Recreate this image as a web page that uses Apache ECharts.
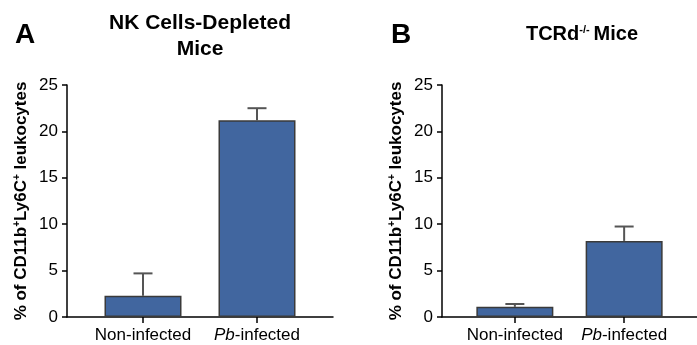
<!DOCTYPE html>
<html>
<head>
<meta charset="utf-8">
<script src="https://cdn.jsdelivr.net/npm/echarts@6/dist/echarts.min.js"></script>
<style>
  html, body { margin: 0; padding: 0; background: #fff; }
  #container { width: 697px; height: 345px; }
</style>
</head>
<body>
<div id="container"></div>
<script>
// data
var categories = ['Non-infected', 'Pb-infected'];
var nkMeans = [2.3, 21.2];   // NK cells-depleted mice
var nkErr = [2.4, 1.3];
var tcrMeans = [1.1, 8.2];   // TCRd-/- mice
var tcrErr = [0.3, 1.55];
var yMin = 0, yMax = 25, yStep = 5;

var FONT = 'Arial, "Liberation Sans", sans-serif';
var BAR_COLOR = '#41669f';
var slots = [2, 5];  // where each category sits on the 0..7 x scale

function catLabel(v) {
    var i = slots.indexOf(v);
    if (i < 0) return '';
    var name = categories[i];
    if (name.indexOf('Pb') === 0) return '{i|Pb}' + name.slice(2);
    return name;
}

function barData(means) {
    return means.map(function (m, i) { return [slots[i], m]; });
}
function errData(means, errs) {
    return means.map(function (m, i) { return [slots[i], m, m + errs[i]]; });
}

function renderErr(params, api) {
    var x = api.value(0);
    var lo = api.coord([x, api.value(1)]);
    var hi = api.coord([x, api.value(2)]);
    var half = 9.5;
    var st = { stroke: '#555', lineWidth: 2 };
    return {
        type: 'group',
        children: [
            { type: 'line', shape: { x1: lo[0], y1: lo[1], x2: hi[0], y2: hi[1] }, style: st },
            { type: 'line', shape: { x1: hi[0] - half, y1: hi[1], x2: hi[0] + half, y2: hi[1] }, style: st }
        ]
    };
}

function xAxisFor(gi) {
    return {
        gridIndex: gi, type: 'value', min: 0, max: 7,
        axisLine: { show: true, onZero: false, lineStyle: { color: '#000', width: 1.5 } },
        axisTick: { show: true, customValues: slots, length: 6, lineStyle: { color: '#000', width: 1.5 } },
        axisLabel: {
            customValues: slots, formatter: catLabel, color: '#000', fontSize: 17,
            fontFamily: FONT, margin: 10,
            rich: { i: { fontStyle: 'italic', fontSize: 17, fontFamily: FONT, color: '#000' } }
        },
        splitLine: { show: false }
    };
}

function yAxisFor(gi) {
    return {
        gridIndex: gi, type: 'value', min: yMin, max: yMax, interval: yStep,
        axisLine: { show: true, lineStyle: { color: '#000', width: 1.5 } },
        axisTick: { show: true, length: 5, lineStyle: { color: '#000', width: 1.5 } },
        axisLabel: { color: '#000', fontSize: 17, fontFamily: FONT, margin: 9 },
        splitLine: { show: false },
        name: '% of CD11b{s|+}Ly6C{s|+} leukocytes',
        nameLocation: 'middle', nameGap: 37,
        nameTextStyle: {
            color: '#000', fontSize: 17, fontWeight: 'bold', fontFamily: FONT,
            rich: { s: { fontSize: 10, fontWeight: 'bold', fontFamily: FONT, color: '#000', verticalAlign: 'top', padding: [0, 0, 8, 0] } }
        }
    };
}

var titleStyle = { color: '#000', fontSize: 21, fontWeight: 'bold', fontFamily: FONT, lineHeight: 26 };

var option = {
    animation: false,
    backgroundColor: '#fff',
    title: [
        { text: 'A', left: 10, top: 16, textStyle: { color: '#000', fontSize: 28, fontWeight: 'bold', fontFamily: FONT } },
        { text: 'NK Cells-Depleted\nMice', left: 195, top: 5, textAlign: 'center', textStyle: titleStyle },
        { text: 'B', left: 386, top: 16, textStyle: { color: '#000', fontSize: 28, fontWeight: 'bold', fontFamily: FONT } },
        {
            text: 'TCRd{s|-/-}Mice', left: 577, top: 19, textAlign: 'center',
            textStyle: {
                color: '#000', fontSize: 20, fontWeight: 'bold', fontFamily: FONT,
                rich: { s: { fontSize: 11, fontWeight: 'bold', fontFamily: FONT, color: '#000', verticalAlign: 'top', padding: [0, 4, 9, 0] } }
            }
        }
    ],
    grid: [
        { left: 67, top: 85, width: 266, height: 232 },
        { left: 442, top: 85, width: 266, height: 232 }
    ],
    xAxis: [xAxisFor(0), xAxisFor(1)],
    yAxis: [yAxisFor(0), yAxisFor(1)],
    series: [
        {
            type: 'bar', xAxisIndex: 0, yAxisIndex: 0, barWidth: 77, data: barData(nkMeans),
            itemStyle: { color: BAR_COLOR, borderColor: '#3a3a3a', borderWidth: 1.5 }
        },
        { type: 'custom', xAxisIndex: 0, yAxisIndex: 0, data: errData(nkMeans, nkErr), renderItem: renderErr, z: 1 },
        {
            type: 'bar', xAxisIndex: 1, yAxisIndex: 1, barWidth: 77, data: barData(tcrMeans),
            itemStyle: { color: BAR_COLOR, borderColor: '#3a3a3a', borderWidth: 1.5 }
        },
        { type: 'custom', xAxisIndex: 1, yAxisIndex: 1, data: errData(tcrMeans, tcrErr), renderItem: renderErr, z: 1 }
    ]
};

echarts.init(document.getElementById('container')).setOption(option);
</script>
</body>
</html>
